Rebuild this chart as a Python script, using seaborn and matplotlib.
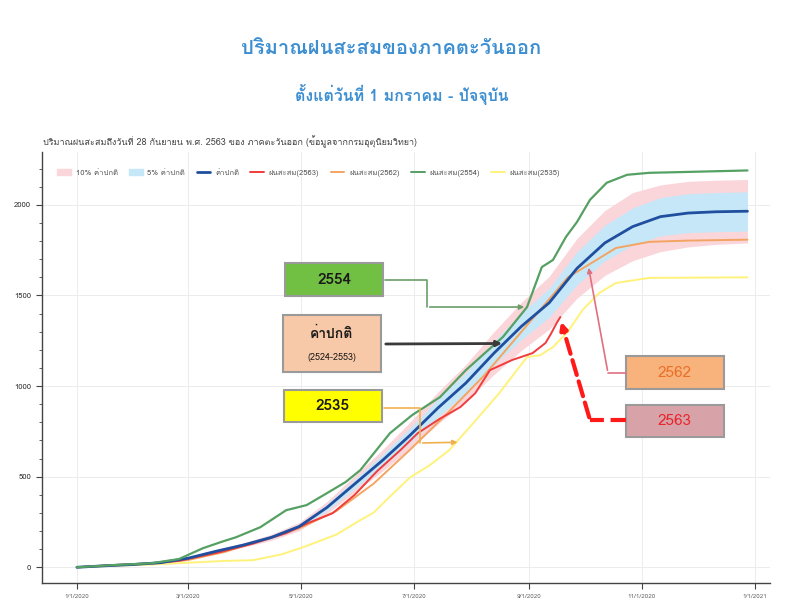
import matplotlib
matplotlib.use("Agg")
import matplotlib.pyplot as plt
import seaborn as sns
from matplotlib import font_manager
from matplotlib.ft2font import FT2Font
from matplotlib.patches import Patch, Rectangle
from matplotlib.lines import Line2D
from matplotlib.ticker import MultipleLocator


# หาฟอนต์ที่มีตัวอักษรไทย
def find_thai_font():
    for path in sorted(font_manager.findSystemFonts()):
        try:
            f = FT2Font(path)
        except Exception:
            continue
        if f.get_char_index(ord("ก")) and f.get_char_index(ord("1")):
            return font_manager.FontProperties(fname=path).get_name()
    return "DejaVu Sans"


# ค่าปกติ (2524-2553) และช่วง 5% / 10%
days = [0, 15, 30, 45, 60, 75, 90, 105, 120, 135, 150, 165, 180, 195, 210, 225,
        240, 255, 270, 285, 300, 315, 330, 345, 362]
normal = [0, 8, 15, 25, 50, 88, 123, 165, 225, 330, 460, 590, 730, 880, 1017, 1180,
          1330, 1460, 1650, 1790, 1880, 1935, 1955, 1962, 1965]
band10_hi = [0, 9, 17, 28, 55, 97, 135, 182, 248, 363, 506, 649, 803, 968, 1119, 1298,
             1463, 1606, 1815, 1969, 2068, 2110, 2130, 2136, 2140]
band10_lo = [0, 7, 13, 22, 45, 79, 111, 148, 202, 297, 414, 531, 657, 792, 915, 1062,
             1197, 1314, 1485, 1611, 1692, 1742, 1768, 1782, 1790]
band5_hi = [0, 8, 16, 26, 53, 93, 130, 174, 237, 348, 485, 622, 770, 928, 1073, 1245,
            1403, 1540, 1741, 1888, 1983, 2040, 2062, 2068, 2072]
band5_lo = [0, 8, 14, 24, 47, 83, 116, 156, 213, 312, 435, 558, 690, 832, 961, 1115,
            1257, 1380, 1559, 1692, 1777, 1829, 1847, 1852, 1855]

# ฝนสะสมรายปี
days_2563 = [0, 20, 40, 55, 77, 95, 113, 125, 138, 150, 162, 175, 184, 196, 207, 215,
             223, 235, 246, 253, 256, 259, 261]
rain_2563 = [0, 12, 22, 35, 83, 130, 188, 245, 298, 400, 530, 650, 740, 820, 884, 960,
             1088, 1144, 1182, 1238, 1290, 1348, 1381]

days_2562 = [0, 20, 40, 60, 80, 100, 120, 140, 160, 180, 200, 220, 240, 255, 265, 276,
             291, 309, 330, 362]
rain_2562 = [0, 10, 20, 40, 85, 150, 215, 310, 460, 650, 850, 1060, 1300, 1480, 1600, 1668,
             1762, 1796, 1803, 1808]

days_2554 = [0, 20, 40, 55, 68, 78, 86, 99, 113, 124, 135, 145, 153, 169, 181, 196, 210,
             220, 230, 243, 251, 257, 264, 270, 277, 286, 297, 309, 330, 362]
rain_2554 = [0, 12, 22, 45, 105, 140, 166, 221, 315, 343, 409, 470, 536, 740, 840, 939, 1088,
             1180, 1271, 1436, 1657, 1696, 1823, 1906, 2028, 2122, 2166, 2177, 2182, 2190]

days_2535 = [0, 20, 40, 60, 80, 95, 110, 122, 140, 153, 160, 170, 180, 190, 201, 214, 228,
             243, 250, 257, 265, 273, 282, 291, 309, 362]
rain_2535 = [0, 8, 15, 25, 35, 39, 70, 110, 180, 260, 300, 400, 497, 560, 646, 796, 961,
             1160, 1170, 1215, 1300, 1420, 1514, 1569, 1597, 1600]

tick_days = [0, 60, 121, 182, 244, 305, 366]
tick_labels = ["1/1/2020", "3/1/2020", "5/1/2020", "7/1/2020", "9/1/2020", "11/1/2020", "1/1/2021"]

legend_labels = ["10% ค่าปกติ", "5% ค่าปกติ", "ค่าปกติ", "ฝนสะสม(2563)",
                 "ฝนสะสม(2562)", "ฝนสะสม(2554)", "ฝนสะสม(2535)"]

sns.set_style("whitegrid")
thai = find_thai_font()
plt.rcParams["font.family"] = [thai, "DejaVu Sans"]

fig = plt.figure(figsize=(7.87, 6.0), dpi=100)
ax = fig.add_axes([0.053, 0.028, 0.925, 0.719])

c_pink = "#fad6da"
c_blue = "#c6e7f8"
c_normal = "#1f4f9e"
c_2563 = "#f03c3c"
c_2562 = "#f4a462"
c_2554 = "#55a063"
c_2535 = "#fff27a"

ax.fill_between(days, band10_lo, band10_hi, color=c_pink, lw=0)
ax.fill_between(days, band5_lo, band5_hi, color=c_blue, lw=0)
sns.lineplot(x=days_2535, y=rain_2535, ax=ax, color=c_2535, lw=1.4)
sns.lineplot(x=days_2562, y=rain_2562, ax=ax, color=c_2562, lw=1.4)
sns.lineplot(x=days_2563, y=rain_2563, ax=ax, color=c_2563, lw=1.4)
sns.lineplot(x=days, y=normal, ax=ax, color=c_normal, lw=2.0)
sns.lineplot(x=days_2554, y=rain_2554, ax=ax, color=c_2554, lw=1.6)

ax.set_xlim(-19, 374)
ax.set_ylim(-88, 2293)
ax.set_xticks(tick_days)
ax.set_xticklabels(tick_labels, fontsize=4.5, color="#666666")
ax.yaxis.set_major_locator(MultipleLocator(500))
ax.yaxis.set_minor_locator(MultipleLocator(100))
ax.tick_params(axis="y", which="major", labelsize=5.5, length=4, color="#444444", left=True,
               labelcolor="#333333")
ax.tick_params(axis="y", which="minor", length=2, color="#444444", left=True)
ax.tick_params(axis="x", length=4, color="#444444", bottom=True)
ax.grid(True, color="#ececec", lw=0.7)
for s in ["top", "right"]:
    ax.spines[s].set_visible(False)
for s in ["left", "bottom"]:
    ax.spines[s].set_color("#444444")
    ax.spines[s].set_linewidth(1.0)

handles = [Patch(color=c_pink), Patch(color=c_blue),
           Line2D([], [], color=c_normal, lw=2), Line2D([], [], color=c_2563, lw=1.4),
           Line2D([], [], color=c_2562, lw=1.4), Line2D([], [], color=c_2554, lw=1.4),
           Line2D([], [], color=c_2535, lw=1.4)]
ax.legend(handles, legend_labels, loc="upper left", bbox_to_anchor=(0.012, 0.975), ncol=7,
          frameon=False, fontsize=5.5, handlelength=1.8, columnspacing=1.5, handletextpad=0.6,
          labelcolor="#555555")

# หัวเรื่อง
fig.text(0.497, 0.92, "ปริมาณฝนสะสมของภาคตะวันออก", ha="center", va="center",
         fontsize=14.5, color="#3d8fd1", fontweight="bold")
fig.text(0.51, 0.842, "ตั้งแต่วันที่ 1 มกราคม - ปัจจุบัน", ha="center", va="center",
         fontsize=11.5, color="#3d8fd1", fontweight="bold")
fig.text(0.055, 0.763, "ปริมาณฝนสะสมถึงวันที่ 28 กันยายน พ.ศ. 2563 ของ ภาคตะวันออก (ข้อมูลจากกรมอุตุนิยมวิทยา)",
         ha="left", va="center", fontsize=6.5, color="#444444")


# กล่องข้อความ (พิกัดภาพ: y จากด้านบน)
def box(x0, y0, x1, y1, fc):
    fig.add_artist(Rectangle((x0 / 787, 1 - y1 / 600), (x1 - x0) / 787, (y1 - y0) / 600,
                             transform=fig.transFigure, fc=fc, ec="#9a9a9a", lw=1.5))


def label(x, y, s, **kw):
    fig.text(x / 787, 1 - y / 600, s, ha="center", va="center", **kw)


def seg(pts, **kw):
    fig.add_artist(Line2D([p[0] / 787 for p in pts], [1 - p[1] / 600 for p in pts],
                          transform=fig.transFigure, **kw))


def arrow(start, tip, **kw):
    ax.annotate("", xy=tip, xycoords="data", xytext=(start[0], 600 - start[1]),
                textcoords="figure pixels", arrowprops=kw)


box(285, 263, 383, 296, "#72c043")
label(334, 280, "2554", fontsize=11, fontweight="bold", color="#1a1a1a")
seg([(385, 280), (427, 280), (427, 307)], color="#6a9e6a", lw=1.2)
arrow((427, 307), (243, 1436), arrowstyle="-|>", color="#6a9e6a", lw=1.2, mutation_scale=7)

box(283, 315, 381, 372, "#f8c9a8")
label(332, 334, "ค่าปกติ", fontsize=10, fontweight="bold", color="#1a1a1a")
label(332, 357, "(2524-2553)", fontsize=6.5, color="#1a1a1a")
arrow((383, 344), (231, 1235), arrowstyle="-|>", color="#3a3a3a", lw=2, mutation_scale=8)

box(284, 390, 382, 422, "#ffff00")
label(333, 406, "2535", fontsize=11, fontweight="bold", color="#1a1a1a")
seg([(384, 408), (420, 408), (420, 443)], color="#f0b050", lw=1.2)
arrow((420, 443), (207, 690), arrowstyle="-|>", color="#f0b050", lw=1.2, mutation_scale=7)

box(626, 356, 724, 389, "#f8b27c")
label(675, 373, "2562", fontsize=11, color="#e8702a")
seg([(626, 373), (608, 373)], color="#e07080", lw=1.2)
arrow((608, 373), (276, 1668), arrowstyle="-|>", color="#e07080", lw=1.2, mutation_scale=7)

box(626, 405, 724, 437, "#d8a3a8")
label(675, 421, "2563", fontsize=11, color="#e8242c")
seg([(626, 420), (590, 420)], color="#ff1a1a", lw=3, ls="--")
arrow((590, 420), (261, 1370), arrowstyle="-|>", color="#ff1a1a", lw=3, ls="--", mutation_scale=10)

plt.savefig("out.png", dpi=100)
